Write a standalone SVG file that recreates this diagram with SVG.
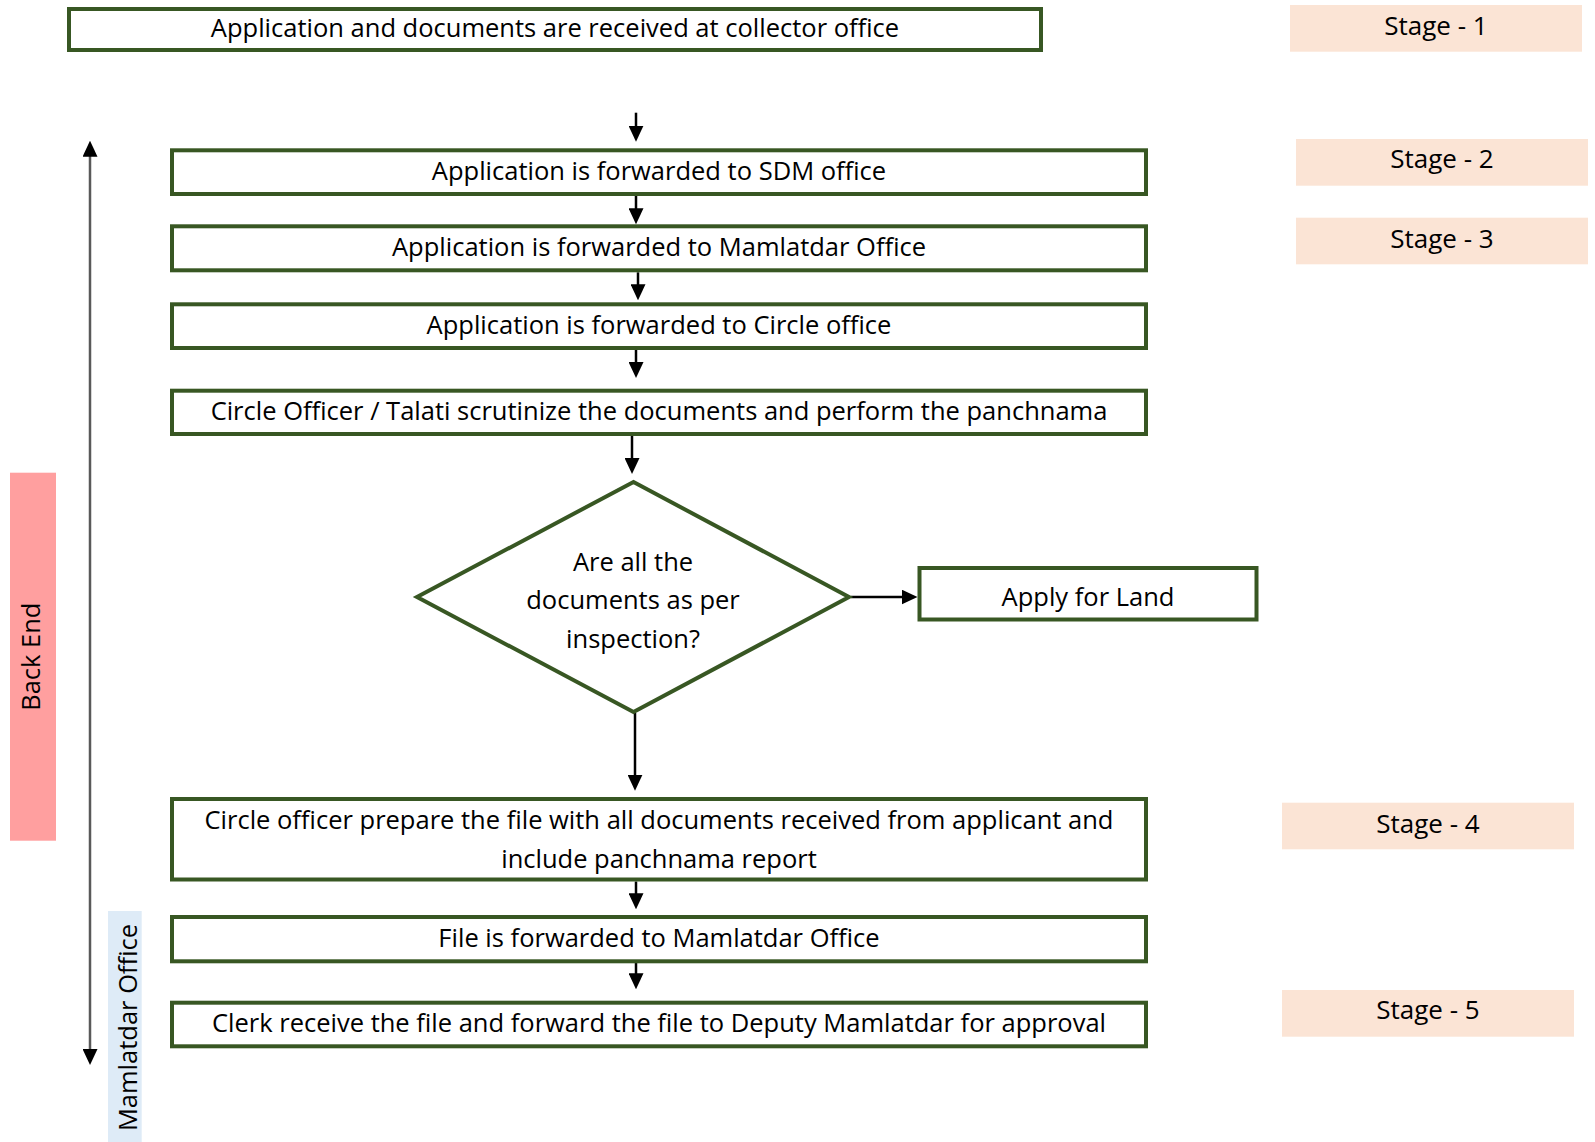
<svg xmlns="http://www.w3.org/2000/svg" width="1595" height="1142" viewBox="0 0 1595 1142">
<defs>
<style>
.box{fill:#ffffff;stroke:#385723;stroke-width:4;stroke-linejoin:miter}
.t{font-family:"Open Sans","Noto Sans","Liberation Sans",sans-serif;font-size:25.5px;fill:#000;text-anchor:middle}
.st{font-family:"Open Sans","Noto Sans","Liberation Sans",sans-serif;font-size:26px;fill:#000;text-anchor:middle}
.stage{fill:#FBE4D5}
.flow{stroke:#000;stroke-width:2.5;fill:none;marker-end:url(#ah)}
.axis{stroke:#595959;stroke-width:2.5;fill:none;marker-start:url(#ah2);marker-end:url(#ah2)}
</style>
<marker id="ah" markerUnits="userSpaceOnUse" viewBox="0 0 16 15" markerWidth="16" markerHeight="15" refX="8" refY="7.5" orient="auto">
<path d="M0,0 L16,7.5 L0,15 z" fill="#000"/>
</marker>
<marker id="ah2" markerUnits="userSpaceOnUse" viewBox="0 0 16 15" markerWidth="16" markerHeight="15" refX="8" refY="7.5" orient="auto-start-reverse">
<path d="M0,0 L16,7.5 L0,15 z" fill="#000"/>
</marker>
</defs>
<rect width="1595" height="1142" fill="#ffffff"/>

<g id="lane-backend">
<rect x="10" y="472.7" width="46" height="368" fill="#FF9F9F"/>
<text class="t" transform="translate(40,656.7) rotate(-90)">Back End</text>
</g>
<g id="lane-mamlatdar">
<rect x="108" y="911" width="33.7" height="231" fill="#DEEBF7"/>
<text class="t" transform="translate(136.6,1027.5) rotate(-90)">Mamlatdar Office</text>
</g>

<g id="stage1"><rect class="stage" x="1290" y="5" width="292" height="46.7"/><text class="st" x="1436" y="35">Stage - 1</text></g>
<g id="stage2"><rect class="stage" x="1296" y="139" width="292" height="46.7"/><text class="st" x="1442" y="168.3">Stage - 2</text></g>
<g id="stage3"><rect class="stage" x="1296" y="217.7" width="292" height="46.6"/><text class="st" x="1442" y="248.3">Stage - 3</text></g>
<g id="stage4"><rect class="stage" x="1282" y="802.7" width="292" height="46.6"/><text class="st" x="1428" y="832.7">Stage - 4</text></g>
<g id="stage5"><rect class="stage" x="1282" y="990" width="292" height="46.7"/><text class="st" x="1428" y="1019.3">Stage - 5</text></g>

<g id="connectors">
<line class="axis" x1="90" y1="148.7" x2="90" y2="1057"/>
<line class="flow" x1="636" y1="112.7" x2="636" y2="133.7"/>
<line class="flow" x1="636" y1="196" x2="636" y2="216.3"/>
<line class="flow" x1="638" y1="272.3" x2="638" y2="292.3"/>
<line class="flow" x1="636" y1="350" x2="636" y2="370"/>
<line class="flow" x1="632" y1="436" x2="632" y2="466"/>
<line class="flow" x1="851" y1="597" x2="909.5" y2="597"/>
<line class="flow" x1="635" y1="713" x2="635" y2="782.7"/>
<line class="flow" x1="636" y1="881.5" x2="636" y2="901.3"/>
<line class="flow" x1="636" y1="963" x2="636" y2="981.3"/>
</g>

<g id="n-received">
<rect class="box" x="69" y="9" width="972" height="41"/>
<text class="t" x="555" y="37">Application and documents are received at collector office</text>
</g>
<g id="n-sdm">
<rect class="box" x="172" y="150.3" width="974" height="43.7"/>
<text class="t" x="659" y="179.5">Application is forwarded to SDM office</text>
</g>
<g id="n-mamlatdar">
<rect class="box" x="172" y="226.3" width="974" height="44"/>
<text class="t" x="659" y="255.5">Application is forwarded to Mamlatdar Office</text>
</g>
<g id="n-circle">
<rect class="box" x="172" y="304.3" width="974" height="43.7"/>
<text class="t" x="659" y="333.5">Application is forwarded to Circle office</text>
</g>
<g id="n-scrutinize">
<rect class="box" x="172" y="390.7" width="974" height="43.3"/>
<text class="t" x="659" y="419.5">Circle Officer / Talati scrutinize the documents and perform the panchnama</text>
</g>
<g id="n-decision">
<polygon class="box" points="633.5,482 849,597 633.5,712 417,597"/>
<text class="t" x="633" y="570.5">Are all the</text>
<text class="t" x="633" y="609">documents as per</text>
<text class="t" x="633" y="647.5">inspection?</text>
</g>
<g id="n-apply">
<rect class="box" x="919.5" y="568" width="337" height="51.5"/>
<text class="t" x="1088" y="606">Apply for Land</text>
</g>
<g id="n-prepare">
<rect class="box" x="172" y="799" width="974" height="80.5"/>
<text class="t" x="659" y="828.5">Circle officer prepare the file with all documents received from applicant and</text>
<text class="t" x="659" y="868">include panchnama report</text>
</g>
<g id="n-file">
<rect class="box" x="172" y="917" width="974" height="44.3"/>
<text class="t" x="659" y="947">File is forwarded to Mamlatdar Office</text>
</g>
<g id="n-clerk">
<rect class="box" x="172" y="1002.7" width="974" height="43.6"/>
<text class="t" x="659" y="1031.5">Clerk receive the file and forward the file to Deputy Mamlatdar for approval</text>
</g>
</svg>
